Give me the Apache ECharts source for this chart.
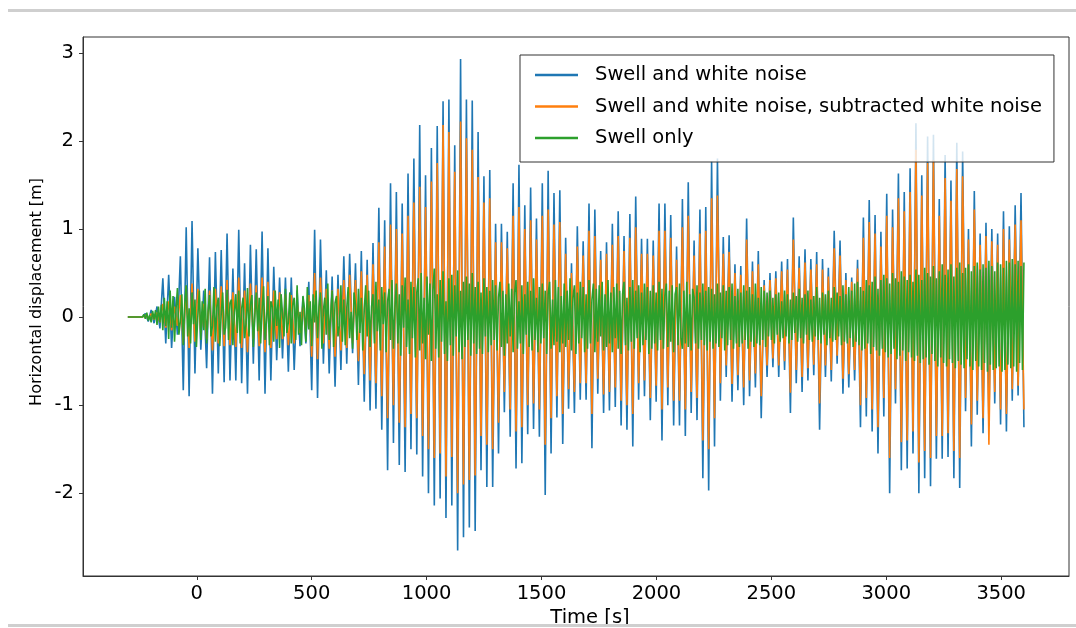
<!DOCTYPE html>
<html>
<head>
<meta charset="utf-8">
<script src="https://cdn.jsdelivr.net/npm/echarts@6/dist/echarts.min.js"></script>
<style>
html,body{margin:0;padding:0;background:#fff;}
#chart{width:1076px;height:628px;}
</style>
</head>
<body>
<div id="chart"></div>
<script>
// Sampling of the traces (time of first sample and step), seconds
const T0 = -300;
const DT = 12.7;        // blue / orange: one value per wave crest or trough
const DT_GREEN = 6.35;  // green: finer sampling

const seriesNames = ['Swell and white noise', 'Swell and white noise, subtracted white noise', 'Swell only'];
const xTickValues = [0, 500, 1000, 1500, 2000, 2500, 3000, 3500];
const yTickValues = [-2, -1, 0, 1, 2, 3];

// Swell and white noise (blue)
const swellNoise = [
 0,0,0,0,0,0, 0.04,-0.05,0.08,-0.07,0.12,-0.13,
 0.44,-0.30, 0.48,-0.35, 0.23,-0.20, 0.69,-0.83, 1.02,-0.90, 1.09,-0.64, 0.78,-0.37, 0.30,-0.58, 0.68,-0.87, 0.74,-0.64,
 0.76,-0.74, 0.95,-0.72, 0.55,-0.72, 0.99,-0.75, 0.61,-0.87, 0.82,-0.53, 0.77,-0.72, 0.97,-0.87, 0.78,-0.72, 0.57,-0.49,
 0.45,-0.47, 0.45,-0.62, 0.45,-0.60, 0.30,-0.33, 0.23,-0.30, 0.40,-0.83, 0.99,-0.92, 0.88,-0.53, 0.53,-0.64, 0.46,-0.79,
 0.48,-0.60, 0.69,-0.53, 0.72,-0.41, 0.61,-0.77, 0.75,-0.96, 0.65,-1.06, 0.84,-1.04, 1.24,-1.28, 1.10,-1.74, 1.52,-1.43,
 1.42,-1.68, 1.29,-1.76, 1.63,-1.50, 1.80,-1.56, 2.18,-1.81, 1.61,-2.00, 1.92,-2.14, 2.17,-2.06, 2.45,-2.28, 2.47,-2.14,
 1.95,-2.65, 2.93,-2.50, 2.47,-2.39, 2.46,-2.43, 2.10,-1.74, 1.60,-1.93, 1.67,-1.93, 1.06,-1.55, 1.06,-1.08, 0.97,-1.36,
 1.52,-1.72, 1.73,-1.66, 1.27,-1.33, 1.47,-1.27, 1.12,-1.36, 1.52,-2.02, 1.66,-1.55, 1.41,-1.14, 1.44,-1.44, 0.90,-1.04,
 0.61,-1.09, 1.03,-0.94, 0.86,-0.94, 1.29,-1.49, 1.22,-0.87, 0.75,-1.09, 0.85,-1.06, 1.06,-1.02, 1.20,-1.23, 0.92,-1.28,
 1.17,-1.47, 1.37,-0.94, 0.89,-0.90, 0.89,-1.17, 0.87,-0.96, 1.29,-1.40, 1.29,-1.00, 1.16,-1.23, 0.80,-1.23, 1.34,-1.35,
 1.53,-1.09, 0.87,-1.17, 1.22,-1.83, 1.25,-1.97, 1.77,-1.47, 1.80,-0.95, 0.91,-0.68, 0.93,-0.96, 0.60,-0.83, 0.58,-1.00,
 1.12,-0.90, 0.63,-0.80, 0.75,-1.15, 0.42,-0.68, 0.50,-0.57, 0.52,-0.68, 0.63,-0.60, 0.66,-1.09, 1.13,-0.75, 0.69,-0.85,
 0.77,-0.72, 0.66,-0.66, 0.74,-1.28, 0.66,-0.68, 0.56,-0.73, 0.98,-0.53, 0.87,-0.87, 0.50,-0.80, 0.45,-0.72, 0.65,-1.25,
 1.13,-1.13, 1.33,-1.30, 1.16,-1.55, 0.97,-1.13, 1.40,-2.00, 1.22,-0.98, 1.63,-1.74, 1.42,-1.72, 1.69,-1.55, 2.20,-2.00,
 1.61,-1.83, 2.05,-1.92, 2.07,-1.61, 1.34,-1.61, 1.84,-1.59, 1.55,-1.83, 1.98,-1.94, 1.88,-1.07, 1.00,-1.47, 1.43,-1.11,
 0.95,-1.32, 1.07,-1.20, 1.00,-0.98, 0.95,-1.22, 1.20,-1.30, 1.03,-0.95, 1.27,-0.89, 1.41,-1.25
];

// Swell and white noise, subtracted white noise (orange)
const swellNoiseSub = [
 0,0,0,0,0,0, 0.02,-0.02,0.04,-0.03,0.05,-0.06,
 0.15,-0.12, 0.18,-0.15, 0.12,-0.10, 0.25,-0.30, 0.35,-0.35, 0.38,-0.28, 0.32,-0.18, 0.15,-0.25, 0.30,-0.38, 0.32,-0.30,
 0.35,-0.33, 0.42,-0.32, 0.28,-0.34, 0.45,-0.35, 0.30,-0.40, 0.38,-0.25, 0.36,-0.33, 0.45,-0.40, 0.40,-0.35, 0.30,-0.25,
 0.28,-0.25, 0.26,-0.32, 0.25,-0.30, 0.18,-0.18, 0.15,-0.18, 0.25,-0.45, 0.50,-0.48, 0.45,-0.30, 0.32,-0.36, 0.30,-0.45,
 0.32,-0.38, 0.42,-0.35, 0.48,-0.30, 0.42,-0.50, 0.52,-0.65, 0.48,-0.72, 0.60,-0.75, 0.85,-0.90, 0.80,-1.15, 1.05,-1.00,
 1.00,-1.20, 0.95,-1.25, 1.15,-1.10, 1.30,-1.15, 1.48,-1.35, 1.25,-1.50, 1.54,-1.60, 1.75,-1.55, 2.18,-1.81, 2.10,-1.59,
 1.65,-2.00, 2.22,-1.90, 2.03,-1.85, 1.90,-1.80, 1.59,-1.35, 1.30,-1.45, 1.35,-1.50, 0.85,-1.20, 0.85,-0.85, 0.78,-1.05,
 1.15,-1.30, 1.25,-1.25, 1.00,-1.00, 1.10,-0.98, 0.88,-1.05, 1.15,-1.45, 1.22,-1.15, 1.05,-0.90, 1.08,-1.10, 0.72,-0.82,
 0.50,-0.85, 0.80,-0.75, 0.70,-0.75, 0.98,-1.10, 0.92,-0.70, 0.65,-0.88, 0.72,-0.85, 0.82,-0.80, 0.92,-0.95, 0.75,-1.00,
 0.90,-1.10, 1.02,-0.75, 0.72,-0.72, 0.72,-0.92, 0.70,-0.78, 0.98,-1.05, 0.98,-0.80, 0.90,-0.95, 0.65,-0.95, 1.02,-1.05,
 1.15,-0.85, 0.70,-0.92, 0.95,-1.40, 0.98,-1.50, 1.35,-1.15, 1.38,-0.75, 0.72,-0.55, 0.74,-0.76, 0.50,-0.66, 0.48,-0.80,
 0.88,-0.72, 0.52,-0.64, 0.60,-0.90, 0.36,-0.55, 0.42,-0.47, 0.44,-0.55, 0.52,-0.50, 0.54,-0.86, 0.88,-0.60, 0.56,-0.68,
 0.62,-0.58, 0.54,-0.54, 0.60,-0.98, 0.54,-0.55, 0.46,-0.60, 0.78,-0.44, 0.70,-0.70, 0.42,-0.65, 0.40,-0.60, 0.55,-1.00,
 0.90,-0.92, 1.08,-1.05, 0.95,-1.25, 0.80,-0.92, 1.15,-1.60, 1.02,-0.82, 1.35,-1.42, 1.20,-1.40, 1.42,-1.30, 1.90,-1.65,
 1.38,-1.52, 1.75,-1.60, 1.78,-1.35, 1.15,-1.35, 1.58,-1.32, 1.32,-1.52, 1.68,-1.60, 1.60,-0.92, 0.88,-1.22, 1.22,-0.95,
 0.82,-1.15, 0.92,-1.45, 0.86,-0.85, 0.82,-1.05, 1.00,-1.10, 0.88,-0.82, 1.05,-0.78, 1.10,-1.05
];

// Swell only (green), finer sampling
const swellOnly = [
 0,0,0,0,0,0,0,0,0,0,0, 0.03,-0.02,0.05,-0.04,0.02,-0.06,0.07,-0.03,0.08,
 -0.09,0.12,-0.06,0.14,-0.15,0.22,-0.10,0.18,-0.25,0.30,-0.12,0.24,-0.28,0.08,0.33,-0.20,-0.05,0.26,-0.32,0.15,
 0.36,-0.22,0.10,-0.30,0.28,-0.08,0.20,-0.34,0.02,0.30,-0.26,0.18,-0.15,0.32,-0.30,0.06,0.25,-0.22,-0.10,0.34,
 -0.28,0.12,0.22,-0.33,0.04,0.28,-0.20,-0.12,0.31,-0.26,0.16,0.20,-0.32,0.05,0.26,-0.18,0.30,-0.30,0.10,0.22,
 -0.24,-0.08,0.33,-0.22,0.14,0.25,-0.34,0.02,0.28,-0.16,0.22,-0.30,0.08,0.35,-0.26,-0.04,0.24,-0.32,0.18,0.12,
 -0.28,0.30,-0.10,0.20,-0.35,0.26,0.04,-0.22,0.32,-0.18,-0.06,0.28,-0.30,0.14,0.22,-0.26,0.36,-0.20,0.06,-0.32,
 0.24,0.10,-0.28,0.34,-0.14,0.18,-0.33,0.26,-0.06,0.30,-0.24,0.12,0.28,-0.36,0.08,0.22,-0.20,0.38,-0.26,0.02,
 0.30,-0.34,0.16,0.24,-0.22,-0.10,0.36,-0.28,0.20,-0.32,0.10,0.34,-0.24,0.06,-0.36,0.28,0.14,-0.26,0.32,-0.18,
 0.22,-0.38,0.08,0.36,-0.22,0.30,-0.34,0.12,0.26,-0.30,0.40,-0.16,0.20,-0.38,0.34,-0.08,0.28,-0.40,0.18,0.32,
 -0.26,0.42,-0.36,0.10,0.38,-0.30,0.26,-0.44,0.36,-0.12,0.45,-0.34,0.20,-0.42,0.40,-0.24,0.34,-0.46,0.28,0.44,
 -0.38,0.50,-0.30,0.22,-0.48,0.46,-0.20,0.38,-0.50,0.30,0.55,-0.36,0.26,-0.46,0.42,-0.28,0.52,-0.42,0.18,-0.50,
 0.44,-0.32,0.48,-0.44,0.36,-0.22,0.53,-0.40,0.30,-0.48,0.40,-0.34,0.46,-0.26,0.38,-0.44,0.50,-0.30,0.34,-0.42,
 0.40,-0.36,0.28,-0.42,0.44,-0.22,0.34,-0.40,0.30,-0.32,0.42,-0.26,0.36,-0.38,0.22,0.40,-0.34,0.30,-0.44,0.26,
 -0.30,0.38,-0.22,0.32,-0.40,0.28,0.42,-0.36,0.18,-0.30,0.36,-0.42,0.26,-0.20,0.40,-0.34,0.30,-0.38,0.44,-0.26,
 0.22,-0.40,0.34,-0.30,0.38,-0.24,0.30,-0.42,0.26,0.40,-0.36,0.20,-0.32,0.42,-0.28,0.34,-0.40,0.24,-0.30,0.38,
 -0.34,0.30,-0.26,0.44,-0.38,0.22,0.36,-0.42,0.28,-0.30,0.40,-0.24,0.34,-0.40,0.26,-0.36,0.42,-0.30,0.20,0.38,
 -0.40,0.32,-0.28,0.36,-0.22,0.40,-0.38,0.26,-0.34,0.42,-0.30,0.28,-0.40,0.34,-0.24,0.38,-0.36,0.30,-0.42,0.26,
 0.40,-0.32,0.22,-0.38,0.34,-0.28,0.42,-0.36,0.30,-0.24,0.36,-0.40,0.28,-0.32,0.38,-0.26,0.34,-0.42,0.30,-0.36,
 0.36,-0.30,0.28,-0.38,0.40,-0.26,0.32,-0.36,0.24,0.38,-0.34,0.30,-0.28,0.36,-0.40,0.26,0.34,-0.32,0.38,-0.24,
 -0.36,0.30,-0.30,0.40,-0.34,0.26,-0.38,0.32,0.22,-0.30,0.36,-0.36,0.28,-0.26,0.38,-0.32,0.30,-0.38,0.34,-0.28,
 0.32,-0.36,0.26,-0.30,0.38,-0.34,0.28,-0.24,0.36,-0.38,0.30,-0.32,0.34,-0.26,0.38,-0.36,0.24,-0.30,0.32,-0.34,
 0.28,-0.30,0.36,-0.26,0.30,-0.36,0.34,-0.28,0.26,-0.34,0.38,-0.30,0.22,-0.32,0.34,-0.26,0.30,-0.34,0.28,-0.22,
 0.30,-0.26,0.22,-0.30,0.26,-0.20,0.28,-0.28,0.18,-0.24,0.30,-0.22,0.26,-0.30,0.20,-0.26,0.28,-0.18,0.24,-0.28,
 0.32,-0.24,0.22,-0.30,0.26,-0.20,0.30,-0.26,0.20,-0.28,0.24,-0.22,0.34,-0.26,0.22,-0.30,0.28,-0.20,0.26,-0.32,
 0.30,-0.24,0.22,-0.28,0.34,-0.26,0.28,-0.22,0.24,-0.32,0.36,-0.28,0.26,-0.30,0.34,-0.24,0.30,-0.34,0.38,-0.28,
 0.40,-0.32,0.34,-0.38,0.30,-0.36,0.42,-0.30,0.36,-0.42,0.40,-0.34,0.46,-0.38,0.32,-0.44,0.42,-0.36,0.48,-0.40,
 0.44,-0.46,0.38,-0.42,0.50,-0.36,0.44,-0.48,0.40,-0.44,0.52,-0.38,0.46,-0.50,0.42,-0.40,0.48,-0.46,0.40,-0.50,
 0.54,-0.44,0.48,-0.52,0.42,-0.48,0.56,-0.46,0.50,-0.54,0.46,-0.42,0.58,-0.50,0.44,-0.56,0.52,-0.46,0.60,-0.52,
 0.48,-0.56,0.54,-0.48,0.60,-0.52,0.46,-0.58,0.56,-0.50,0.62,-0.54,0.50,-0.58,0.56,-0.48,0.60,-0.56,0.52,-0.60,
 0.58,-0.50,0.62,-0.56,0.54,-0.60,0.60,-0.52,0.56,-0.62,0.64,-0.54,0.58,-0.60,0.52,-0.58,0.62,-0.56,0.60,-0.62,
 0.56,-0.60,0.64,-0.54,0.62,-0.58,0.66,-0.56,0.60,-0.62,0.64,-0.52,0.58,-0.60,0.62
];

function toPoints(values, step) {
  return values.map((v, i) => [T0 + i * step, v]);
}

const FONT = 'DejaVu Sans';
const colors = ['#1f77b4', '#ff7f0e', '#2ca02c'];
const chart = echarts.init(document.getElementById('chart'), null, {renderer: 'canvas'});

const traces = [[swellNoise, DT], [swellNoiseSub, DT], [swellOnly, DT_GREEN]];
const lineSeries = traces.map(([vals, step], idx) => ({
  name: seriesNames[idx],
  type: 'line',
  data: toPoints(vals, step),
  showSymbol: false,
  symbol: 'none',
  sampling: null,
  lineStyle: {width: 1.6, color: colors[idx]},
  itemStyle: {color: colors[idx]},
  emphasis: {disabled: true},
  animation: false
}));

chart.setOption({
  animation: false,
  color: colors,
  grid: {left: 83, right: 7, top: 37, bottom: 52, show: true, borderColor: '#333', borderWidth: 1, backgroundColor: 'transparent'},
  legend: {
    orient: 'vertical', left: 520, top: 55,
    data: seriesNames,
    icon: 'rect',
    backgroundColor: 'rgba(255,255,255,0.8)',
    borderColor: '#333', borderWidth: 1, borderRadius: 0,
    padding: [10, 12, 14, 15],
    itemWidth: 43, itemHeight: 2.5, itemGap: 11.5,
    textStyle: {fontSize: 19.5, color: '#000', fontFamily: FONT, padding: [0, 0, 0, 12]}
  },
  xAxis: {
    type: 'value', min: -495, max: 3795,
    axisLine: {show: true, onZero: false, lineStyle: {color: '#333', width: 1}},
    axisTick: {show: true, customValues: xTickValues, length: 4, lineStyle: {color: '#333'}},
    axisLabel: {customValues: xTickValues, fontSize: 19.5, color: '#000', fontFamily: FONT, margin: 8,
      formatter: v => String(v)},
    splitLine: {show: false}
  },
  yAxis: {
    type: 'value', min: -2.94, max: 3.18,
    axisLine: {show: true, onZero: false, lineStyle: {color: '#333', width: 1}},
    axisTick: {show: true, customValues: yTickValues, length: 4, lineStyle: {color: '#333'}},
    axisLabel: {customValues: yTickValues, fontSize: 19.5, color: '#000', fontFamily: FONT, margin: 9,
      formatter: v => (v < 0 ? '-' + Math.abs(v) : String(v))},
    splitLine: {show: false}
  },
  graphic: [
    {type: 'text', x: 590, y: 618, z: 50,
     style: {text: 'Time [s]', fontSize: 19.5, fontFamily: FONT, fill: '#000', textAlign: 'center', textVerticalAlign: 'middle'}},
    {type: 'text', x: 37, y: 292, rotation: Math.PI / 2, z: 50,
     style: {text: 'Horizontal displacement [m]', fontSize: 16, fontFamily: FONT, fill: '#000', textAlign: 'center', textVerticalAlign: 'middle'}},
    {type: 'rect', z: 100, shape: {x: 8, y: 9, width: 1068, height: 3}, style: {fill: '#cfcfcf'}},
    {type: 'rect', z: 100, shape: {x: 8, y: 624, width: 1068, height: 3}, style: {fill: '#cfcfcf'}}
  ],
  series: lineSeries
});
</script>
</body>
</html>
